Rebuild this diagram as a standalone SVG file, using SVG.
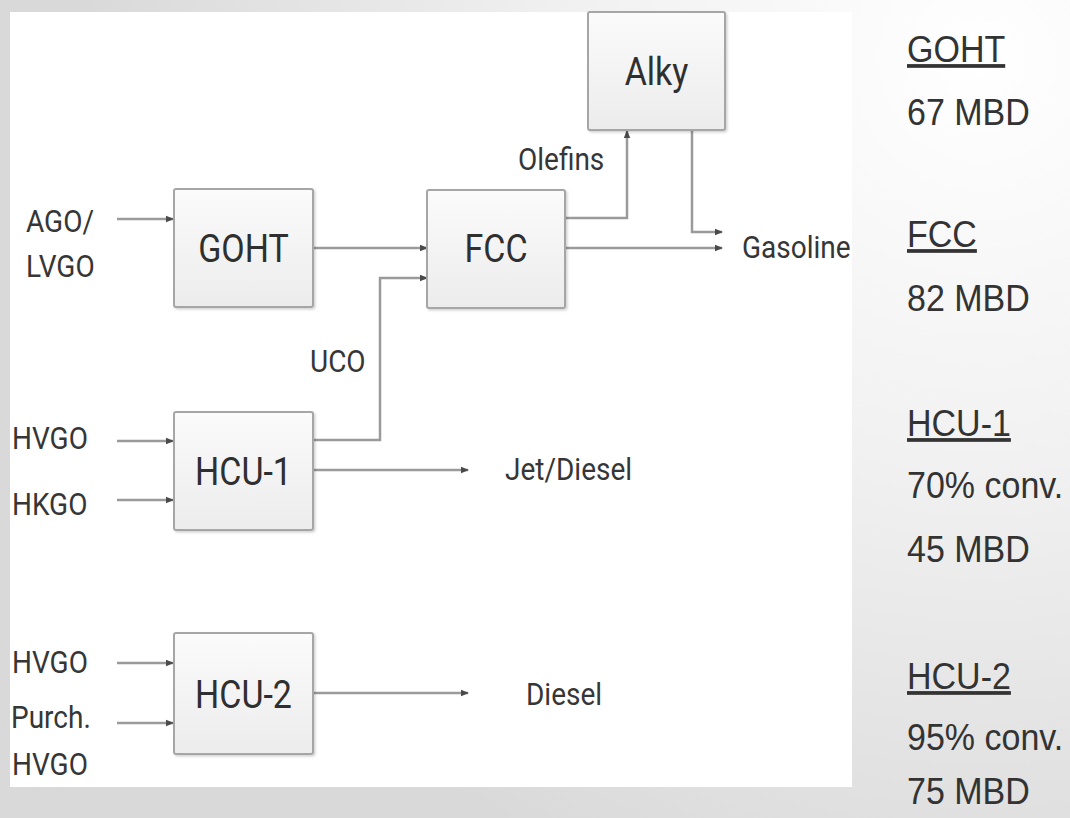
<svg xmlns="http://www.w3.org/2000/svg" width="1070" height="818" viewBox="0 0 1070 818">
  <defs>
    <radialGradient id="bg" cx="980" cy="60" r="900" gradientUnits="userSpaceOnUse">
      <stop offset="0" stop-color="#ffffff"/>
      <stop offset="0.45" stop-color="#f1f1f1"/>
      <stop offset="1" stop-color="#d9d9d9"/>
    </radialGradient>
    <linearGradient id="boxfill" x1="0" y1="0" x2="0" y2="1">
      <stop offset="0" stop-color="#fbfbfb"/>
      <stop offset="1" stop-color="#ececec"/>
    </linearGradient>
    <filter id="shadow" x="-10%" y="-10%" width="120%" height="120%">
      <feDropShadow dx="1.5" dy="1.5" stdDeviation="1.2" flood-color="#000000" flood-opacity="0.18"/>
    </filter>
    <marker id="arr" viewBox="0 0 8 8" refX="7" refY="4" markerWidth="8" markerHeight="8" markerUnits="userSpaceOnUse" orient="auto">
      <path d="M0,0.8 L8,4 L0,7.2 Z" fill="#4a4a4a"/>
    </marker>
    <style>
      .box { fill: url(#boxfill); stroke: #a6a6a6; stroke-width: 2; filter: url(#shadow); }
      .blabel { font-family: Roboto, "Noto Sans", sans-serif; font-size: 34px; fill: #2f2f2f; text-anchor: middle; }
      .lbl { font-family: Roboto, "Noto Sans", sans-serif; font-size: 28px; fill: #363636; }
      .side { font-family: "Liberation Sans", Arial, sans-serif; font-size: 34px; fill: #333333; }
      .u { text-decoration: underline; }
      .conn { fill: none; stroke: #9a9a9a; stroke-width: 2.5; marker-end: url(#arr); }
    </style>
  </defs>

  <rect x="0" y="0" width="1070" height="818" fill="url(#bg)"/>
  <rect x="10" y="12" width="842" height="775" fill="#ffffff"/>

  <g id="connectors">
    <path class="conn" d="M117 219 H173"/>
    <path class="conn" d="M313 248 H427"/>
    <path class="conn" d="M313 440 H380 V278 H427"/>
    <path class="conn" d="M565 218 H627 V131"/>
    <path class="conn" d="M565 248 H722"/>
    <path class="conn" d="M692 130 V232 H722"/>
    <path class="conn" d="M117 441 H173"/>
    <path class="conn" d="M117 500 H173"/>
    <path class="conn" d="M313 470 H468"/>
    <path class="conn" d="M117 663 H173"/>
    <path class="conn" d="M117 723 H173"/>
    <path class="conn" d="M313 693 H468"/>
  </g>

  <g id="node-goht">
    <rect class="box" x="174" y="189" width="139" height="118" rx="2"/>
    <text class="blabel" transform="translate(243.5 262) scale(1 1.12)">GOHT</text>
  </g>
  <g id="node-fcc">
    <rect class="box" x="427" y="190" width="138" height="118" rx="2"/>
    <text class="blabel" transform="translate(496 262) scale(1 1.12)">FCC</text>
  </g>
  <g id="node-alky">
    <rect class="box" x="588" y="12" width="137" height="118" rx="2"/>
    <text class="blabel" transform="translate(656.5 85) scale(1 1.12)">Alky</text>
  </g>
  <g id="node-hcu1">
    <rect class="box" x="174" y="412" width="139" height="118" rx="2"/>
    <text class="blabel" transform="translate(243.5 485) scale(1 1.12)">HCU-1</text>
  </g>
  <g id="node-hcu2">
    <rect class="box" x="174" y="633" width="139" height="121" rx="2"/>
    <text class="blabel" transform="translate(243.5 708) scale(1 1.12)">HCU-2</text>
  </g>

  <g id="labels">
    <text class="lbl" transform="translate(26 232) scale(1 1.1)">AGO/</text>
    <text class="lbl" transform="translate(26 277) scale(1 1.1)">LVGO</text>
    <text class="lbl" transform="translate(12 449) scale(1 1.1)">HVGO</text>
    <text class="lbl" transform="translate(12 515) scale(1 1.1)">HKGO</text>
    <text class="lbl" transform="translate(12 673) scale(1 1.1)">HVGO</text>
    <text class="lbl" transform="translate(11 728) scale(1 1.1)">Purch.</text>
    <text class="lbl" transform="translate(12 775) scale(1 1.1)">HVGO</text>
    <text class="lbl" transform="translate(518 170) scale(1 1.1)">Olefins</text>
    <text class="lbl" transform="translate(742 258) scale(1 1.1)">Gasoline</text>
    <text class="lbl" transform="translate(310 372) scale(1 1.1)">UCO</text>
    <text class="lbl" transform="translate(505 480) scale(1 1.1)">Jet/Diesel</text>
    <text class="lbl" transform="translate(526 705) scale(1 1.1)">Diesel</text>
  </g>

  <g id="stats">
    <text class="side u" transform="translate(907 62) scale(1 1.1)">GOHT</text>
    <text class="side" transform="translate(907 125) scale(1 1.1)">67 MBD</text>
    <text class="side u" transform="translate(907 247) scale(1 1.1)">FCC</text>
    <text class="side" transform="translate(907 311) scale(1 1.1)">82 MBD</text>
    <text class="side u" transform="translate(907 436) scale(1 1.1)">HCU-1</text>
    <text class="side" transform="translate(907 498) scale(1 1.1)">70% conv.</text>
    <text class="side" transform="translate(907 562) scale(1 1.1)">45 MBD</text>
    <text class="side u" transform="translate(907 689) scale(1 1.1)">HCU-2</text>
    <text class="side" transform="translate(907 750) scale(1 1.1)">95% conv.</text>
    <text class="side" transform="translate(907 804) scale(1 1.1)">75 MBD</text>
  </g>
</svg>
